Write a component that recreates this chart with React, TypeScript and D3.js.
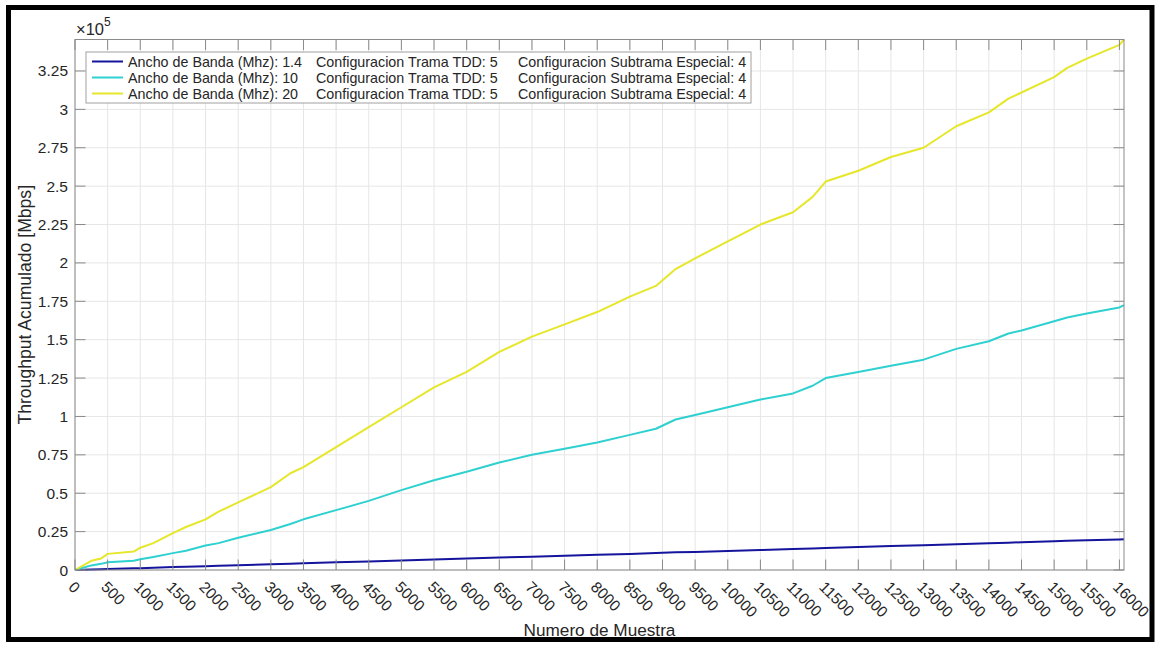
import React from "react";
import * as d3 from "d3";

// Sample index (Numero de Muestra)
const muestra = [0, 250, 400, 500, 900, 1000, 1200, 1500, 1700, 2000, 2200, 2500, 3000, 3300, 3500, 4000, 4500, 5000, 5500, 6000, 6500, 7000, 7500, 8000, 8500, 8900, 9200, 9500, 10000, 10500, 11000, 11300, 11500, 12000, 12500, 13000, 13500, 14000, 14300, 14500, 15000, 15200, 15500, 16000, 16070];

// Accumulated throughput, in units of 1e5 Mbps
const bw14 = [0, 0.003, 0.005, 0.006, 0.011, 0.012, 0.015, 0.019, 0.021, 0.025, 0.028, 0.031, 0.037, 0.041, 0.044, 0.05, 0.056, 0.062, 0.068, 0.075, 0.081, 0.087, 0.093, 0.099, 0.105, 0.11, 0.115, 0.118, 0.124, 0.13, 0.136, 0.14, 0.144, 0.15, 0.156, 0.162, 0.168, 0.174, 0.178, 0.181, 0.187, 0.19, 0.193, 0.199, 0.2];
const bw10 = [0, 0.03, 0.04, 0.05, 0.06, 0.07, 0.085, 0.11, 0.125, 0.16, 0.175, 0.21, 0.26, 0.3, 0.33, 0.39, 0.45, 0.52, 0.585, 0.64, 0.7, 0.75, 0.79, 0.83, 0.88, 0.92, 0.98, 1.01, 1.06, 1.11, 1.15, 1.2, 1.25, 1.29, 1.33, 1.37, 1.44, 1.49, 1.54, 1.56, 1.62, 1.645, 1.67, 1.71, 1.725];
const bw20 = [0, 0.06, 0.075, 0.105, 0.12, 0.145, 0.175, 0.24, 0.28, 0.33, 0.38, 0.44, 0.54, 0.63, 0.67, 0.8, 0.93, 1.06, 1.19, 1.29, 1.42, 1.52, 1.6, 1.68, 1.78, 1.85, 1.96, 2.03, 2.14, 2.25, 2.33, 2.43, 2.53, 2.6, 2.69, 2.75, 2.89, 2.98, 3.07, 3.11, 3.21, 3.27, 3.33, 3.42, 3.455];

const xTicks = [0, 500, 1000, 1500, 2000, 2500, 3000, 3500, 4000, 4500, 5000, 5500, 6000, 6500, 7000, 7500, 8000, 8500, 9000, 9500, 10000, 10500, 11000, 11500, 12000, 12500, 13000, 13500, 14000, 14500, 15000, 15500, 16000];
const yTicks = [0, 0.25, 0.5, 0.75, 1, 1.25, 1.5, 1.75, 2, 2.25, 2.5, 2.75, 3, 3.25];
const yTickLabels = ["0", "0.25", "0.5", "0.75", "1", "1.25", "1.5", "1.75", "2", "2.25", "2.5", "2.75", "3", "3.25"];

const seriesNames = ["Ancho de Banda (Mhz): 1.4", "Ancho de Banda (Mhz): 10", "Ancho de Banda (Mhz): 20"];
const tddLabels = ["Configuracion Trama TDD: 5", "Configuracion Trama TDD: 5", "Configuracion Trama TDD: 5"];
const subLabels = ["Configuracion Subtrama Especial: 4", "Configuracion Subtrama Especial: 4", "Configuracion Subtrama Especial: 4"];
const colors = ["#14149c", "#2fd0d0", "#e6e62a"];

const X_MAX = 16070;
const Y_MAX = 3.455;

export default function App() {
  const W = 1157, H = 645;
  const L = 75, R = 1124, T = 39.5, B = 570;
  const x = d3.scaleLinear().domain([0, X_MAX]).range([L, R]);
  const y = d3.scaleLinear().domain([0, Y_MAX]).range([B, T]);
  const data = [bw14, bw10, bw20];
  const line = d3.line<[number, number]>().x((d) => x(d[0])).y((d) => y(d[1]));
  const font = "'Liberation Sans', Arial, Helvetica, sans-serif";
  const tickLen = 10.5;
  const txt = "#262626";
  const axisC = "#8a8a8a";
  const gridC = "#e6e6e6";

  return (
    <svg width={W} height={H} style={{ position: "absolute", left: 0, top: 0, background: "#fff" }} fontFamily={font}>
      <rect x={0} y={0} width={W} height={H} fill="#fff" />
      {/* grid */}
      {xTicks.map((t) => (
        <line key={"gx" + t} x1={x(t)} x2={x(t)} y1={T} y2={B} stroke={gridC} strokeWidth={1} />
      ))}
      {yTicks.map((t) => (
        <line key={"gy" + t} x1={L} x2={R} y1={y(t)} y2={y(t)} stroke={gridC} strokeWidth={1} />
      ))}
      {/* data lines */}
      {data.map((s, i) => (
        <path key={"s" + i} d={line(muestra.map((m, j) => [m, s[j]]) as [number, number][]) || ""} fill="none" stroke={colors[i]} strokeWidth={2} strokeLinejoin="round" />
      ))}
      {/* box */}
      <rect x={L} y={T} width={R - L} height={B - T} fill="none" stroke={axisC} strokeWidth={1} />
      {/* ticks */}
      {xTicks.map((t) => (
        <g key={"tx" + t}>
          <line x1={x(t)} x2={x(t)} y1={B} y2={B - tickLen} stroke={axisC} />
          <line x1={x(t)} x2={x(t)} y1={T} y2={T + tickLen} stroke={axisC} />
          <text x={x(t) - 3.5} y={584} transform={`rotate(45 ${x(t) - 3.5} 584)`} fontSize={15.5} fill={txt} dominantBaseline="central" textAnchor="start">{t}</text>
        </g>
      ))}
      {yTicks.map((t, i) => (
        <g key={"ty" + t}>
          <line x1={L} x2={L + tickLen} y1={y(t)} y2={y(t)} stroke={axisC} />
          <line x1={R} x2={R - tickLen} y1={y(t)} y2={y(t)} stroke={axisC} />
          <text x={68} y={y(t)} fontSize={15.5} fill={txt} textAnchor="end" dominantBaseline="central">{yTickLabels[i]}</text>
        </g>
      ))}
      {/* exponent */}
      <text x={76} y={35} fontSize={16.5} fill={txt}>×10<tspan dy={-9} fontSize={12}>5</tspan></text>
      {/* axis labels */}
      <text x={(L + R) / 2} y={636} fontSize={17.2} fill={txt} textAnchor="middle">Numero de Muestra</text>
      <text transform={`translate(31 ${(T + B) / 2}) rotate(-90)`} fontSize={17.6} fill={txt} textAnchor="middle">Throughput Acumulado [Mbps]</text>
      {/* legend */}
      <rect x={86} y={52} width={665} height={51} fill="#fff" stroke="#a0a0a0" strokeWidth={1} />
      {seriesNames.map((n, i) => {
        const cy = 61.5 + i * 16;
        return (
          <g key={"lg" + i}>
            <line x1={92} x2={123} y1={cy} y2={cy} stroke={colors[i]} strokeWidth={2} />
            <text x={128} y={cy} fontSize={14.3} fill={txt} dominantBaseline="central">{n}</text>
            <text x={316} y={cy} fontSize={14.3} fill={txt} dominantBaseline="central">{tddLabels[i]}</text>
            <text x={518} y={cy} fontSize={14.3} fill={txt} dominantBaseline="central">{subLabels[i]}</text>
          </g>
        );
      })}
      {/* outer frame */}
      <rect x={8.5} y={7.5} width={1143.5} height={632} fill="none" stroke="#000" strokeWidth={5} />
    </svg>
  );
}
